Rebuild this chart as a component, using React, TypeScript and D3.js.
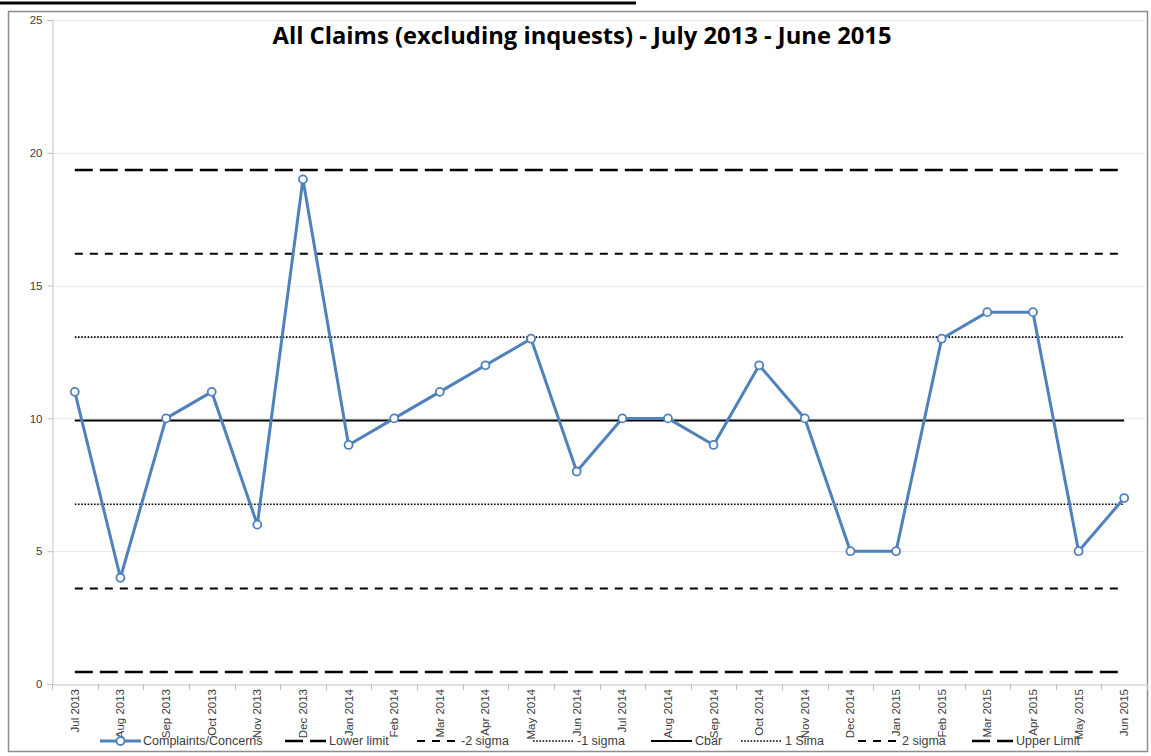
import { useEffect, useRef } from "react";
import * as d3 from "d3";

const months = [
  "Jul 2013", "Aug 2013", "Sep 2013", "Oct 2013", "Nov 2013", "Dec 2013",
  "Jan 2014", "Feb 2014", "Mar 2014", "Apr 2014", "May 2014", "Jun 2014",
  "Jul 2014", "Aug 2014", "Sep 2014", "Oct 2014", "Nov 2014", "Dec 2014",
  "Jan 2015", "Feb 2015", "Mar 2015", "Apr 2015", "May 2015", "Jun 2015",
];
const complaints = [11, 4, 10, 11, 6, 19, 9, 10, 11, 12, 13, 8, 10, 10, 9, 12, 10, 5, 5, 13, 14, 14, 5, 7];

// control lines
const controlNames = ["Lower limit", "-2 sigma", "-1 sigma", "Cbar", "1 Sima", "2 sigma", "Upper Limit"];
const controlValues = [0.45, 3.6, 6.77, 9.92, 13.06, 16.2, 19.35];
const yTicks = [0, 5, 10, 15, 20, 25];

const W = 1151;
const H = 756;
const BLUE = "#4f81bd";

// dash style per control line
const styleFor = (name: string) => {
  if (name === "Lower limit" || name === "Upper Limit") return { dash: "18,7", w: 2.5 };
  if (name.includes("2 sigma")) return { dash: "8,7", w: 2 };
  if (name === "Cbar") return { dash: null, w: 2 };
  return { dash: "1.6,1.6", w: 1.6 };
};

export default function App() {
  const ref = useRef<SVGSVGElement>(null);

  useEffect(() => {
    const svg = d3.select(ref.current);
    svg.selectAll("*").remove();

    const x = d3.scaleBand<string>().domain(months).range([52, 1147]);
    const cx = (m: string) => x(m)! + x.bandwidth() / 2;
    const y = d3.scaleLinear().domain([0, 25]).range([684, 20]);

    // stray header rule at very top
    svg.append("line").attr("x1", 0).attr("x2", 636).attr("y1", 3).attr("y2", 3)
      .attr("stroke", "#000").attr("stroke-width", 3);

    // chart frame
    svg.append("rect").attr("x", 8.5).attr("y", 11.5).attr("width", 1139).attr("height", 740)
      .attr("fill", "#fff").attr("stroke", "#8c8c8c").attr("stroke-width", 1.5);

    // gridlines
    svg.append("g").selectAll("line").data(yTicks.filter((t) => t > 0)).enter().append("line")
      .attr("x1", 52).attr("x2", 1147)
      .attr("y1", (d) => Math.round(y(d)) + 0.5).attr("y2", (d) => Math.round(y(d)) + 0.5)
      .attr("stroke", "#ececec");

    // y axis
    const yAxis = d3.axisLeft(y).tickValues(yTicks).tickSize(5).tickPadding(5);
    svg.append("g").attr("transform", "translate(52.5,0)").call(yAxis)
      .call((g) => g.select(".domain").attr("stroke", "#bfbfbf"))
      .call((g) => g.selectAll(".tick line").attr("stroke", "#bfbfbf"))
      .call((g) => g.selectAll(".tick text").attr("fill", "#404040")
        .style("font-family", "'Liberation Sans', Arial, sans-serif").style("font-size", "11.5px"));

    // x axis
    const xAxis = d3.axisBottom(x).tickSize(0).tickFormat(() => "");
    svg.append("g").attr("transform", "translate(0,684.5)").call(xAxis)
      .call((g) => g.select(".domain").attr("stroke", "#bfbfbf"));
    const bounds = months.map((m) => x(m)!).concat([x.range()[1]]);
    svg.append("g").selectAll("line").data(bounds).enter().append("line")
      .attr("x1", (d) => Math.round(d) + 0.5).attr("x2", (d) => Math.round(d) + 0.5)
      .attr("y1", 684).attr("y2", 690).attr("stroke", "#bfbfbf");

    svg.append("g").selectAll("text").data(months).enter().append("text")
      .attr("transform", (d) => `translate(${cx(d) + 4},689) rotate(-90)`)
      .attr("text-anchor", "end")
      .attr("fill", "#404040")
      .style("font-family", "'Liberation Sans', Arial, sans-serif").style("font-size", "11.5px")
      .text((d) => d);

    // control lines
    const [x0, x1] = [cx(months[0]), cx(months[months.length - 1])];
    controlNames.forEach((name, i) => {
      const s = styleFor(name);
      const ln = svg.append("line").attr("x1", x0).attr("x2", x1)
        .attr("y1", y(controlValues[i])).attr("y2", y(controlValues[i]))
        .attr("stroke", "#000").attr("stroke-width", s.w);
      if (s.dash) ln.attr("stroke-dasharray", s.dash);
    });

    // complaints series
    const line = d3.line<number>().x((_, i) => cx(months[i])).y((d) => y(d));
    svg.append("path").datum(complaints).attr("fill", "none").attr("stroke", BLUE)
      .attr("stroke-width", 3).attr("stroke-linejoin", "round").attr("d", line);
    svg.append("g").selectAll("circle").data(complaints).enter().append("circle")
      .attr("cx", (_, i) => cx(months[i])).attr("cy", (d) => y(d)).attr("r", 4)
      .attr("fill", "#fff").attr("stroke", BLUE).attr("stroke-width", 1.8);

    // title
    svg.append("text").attr("x", 582).attr("y", 44).attr("text-anchor", "middle")
      .attr("textLength", 619).attr("lengthAdjust", "spacingAndGlyphs")
      .style("font-family", "'Open Sans', sans-serif").style("font-weight", "bold").style("font-size", "23px")
      .attr("fill", "#000")
      .text("All Claims (excluding inquests) - July 2013 - June 2015");

    // legend
    const legendX = [100, 285, 417, 533, 651, 741, 858, 972];
    const ly = 741;
    const lg = svg.append("g")
      .style("font-family", "'Liberation Sans Narrow', 'Liberation Sans', sans-serif").style("font-size", "12.5px");
    lg.append("line").attr("x1", legendX[0]).attr("x2", legendX[0] + 41).attr("y1", ly).attr("y2", ly)
      .attr("stroke", BLUE).attr("stroke-width", 3);
    lg.append("circle").attr("cx", legendX[0] + 20.5).attr("cy", ly).attr("r", 4)
      .attr("fill", "#fff").attr("stroke", BLUE).attr("stroke-width", 1.8);
    lg.append("text").attr("x", legendX[0] + 43).attr("y", ly + 4).attr("fill", "#404040").text("Complaints/Concerns");
    controlNames.forEach((name, i) => {
      const s = styleFor(name);
      const lx = legendX[i + 1];
      const ln = lg.append("line").attr("x1", lx).attr("x2", lx + 41).attr("y1", ly).attr("y2", ly)
        .attr("stroke", "#000").attr("stroke-width", s.w);
      if (s.dash) ln.attr("stroke-dasharray", s.dash);
      lg.append("text").attr("x", lx + 44).attr("y", ly + 4).attr("fill", "#404040").text(name);
    });
  }, []);

  return (
    <svg ref={ref} width={W} height={H} style={{ position: "absolute", left: 0, top: 0 }} />
  );
}
